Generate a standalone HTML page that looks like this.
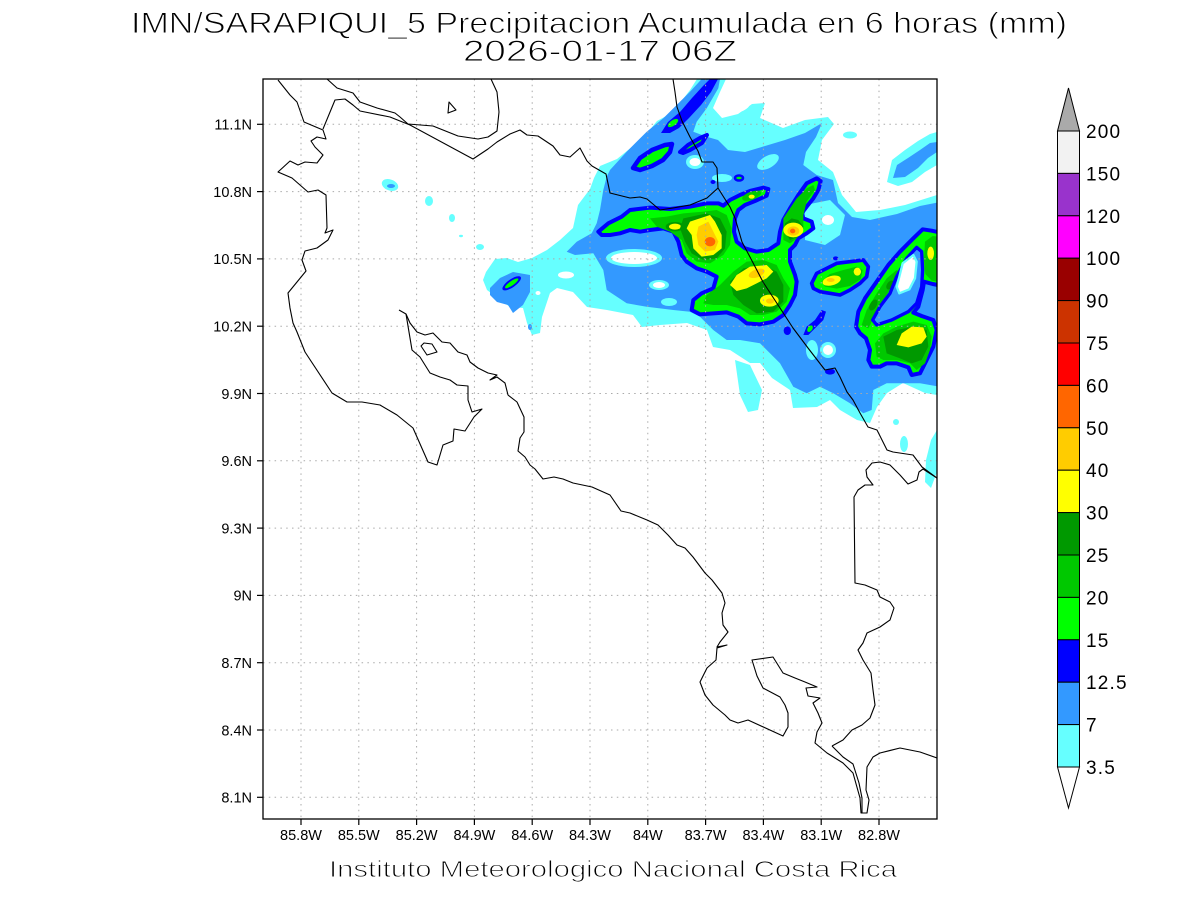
<!DOCTYPE html>
<html><head><meta charset="utf-8"><style>
html,body{margin:0;padding:0;background:#fff;}
svg{display:block;font-family:"Liberation Sans",sans-serif;}
</style></head><body>
<svg width="1200" height="900" viewBox="0 0 1200 900" xmlns="http://www.w3.org/2000/svg">
<defs><clipPath id="cp"><rect x="263" y="79" width="674" height="740"/></clipPath></defs>
<rect width="1200" height="900" fill="#fff"/>

<g clip-path="url(#cp)">
<!-- CYAN -->
<g fill="#66ffff">
<polygon points="483,280 486,272 495,259 507,258 518,262 532,258 547,250 560,240 573,228 578,205 590,189 594,178 600,166 617,159 633,146 648,132 657,121 668,115 680,103 690,90 697,79 726,79 720,92 713,108 722,118 738,114 752,104 765,103 760,118 783,128 805,120 828,117 834,124 822,140 818,160 833,172 842,195 856,212 880,210 905,205 937,195 937,395 925,393 903,383 887,393 877,407 870,423 857,420 840,410 830,400 817,407 793,408 790,390 772,378 760,363 750,363 730,350 713,347 707,330 687,323 660,325 642,327 633,315 607,310 587,307 573,292 557,288 550,293 542,317 540,333 532,335 527,323 523,308 510,307 500,300 487,290"/>
<polygon points="735,360 750,365 762,390 758,410 748,412 740,395"/>
<polygon points="887,182 892,160 905,150 918,141 930,134 937,132 937,165 925,172 912,182 898,186"/>
<ellipse cx="850" cy="135" rx="7" ry="3.5"/>
<polygon points="937,430 937,472 931,488 925,482 926,460 931,440"/>
<ellipse cx="904" cy="444" rx="4" ry="8"/>
<ellipse cx="896" cy="422" rx="3" ry="3"/>
<ellipse cx="390" cy="185" rx="8.5" ry="5.5" transform="rotate(20 390 185)"/>
<ellipse cx="429" cy="201" rx="4" ry="5"/>
<ellipse cx="452" cy="218" rx="3" ry="4"/>
<ellipse cx="461" cy="236" rx="2" ry="1.2"/>
<ellipse cx="480" cy="247" rx="4" ry="3"/>
</g>
<g fill="#fff">
<ellipse cx="566" cy="275" rx="8" ry="3.5"/>
<ellipse cx="538" cy="293" rx="2.5" ry="2"/>
<ellipse cx="742" cy="108" rx="8" ry="3" transform="rotate(-25 742 108)"/>
</g>

<!-- 3399FF -->
<g fill="#3399ff">
<polygon points="490,288 500,278 513,272 530,275 530,292 523,305 513,313 508,305 497,302 490,295"/>
<polygon points="566.7,251.7 576.7,241.7 591.7,233.3 596.7,223.3 600,210 603.3,190 606.7,176.7 610,170 626.7,151.7 646.7,131.7 663.3,118.3 676.7,105 690,91.7 701.7,79 720,79 718.3,88.3 706.7,108.3 696.7,121.7 693.3,131.7 706.7,136.7 718,140 728,150 745,152 765,146 785,140 805,133 822,123 816,137 806,152 803.3,165 816.7,175 833,180 838,203 852,217 870,220 897,214 920,206 940,202 940,386.7 920,383.3 886.7,383.3 873.3,390 871.7,410 863.3,413.3 850,403.3 833.3,393.3 820,386.7 806.7,393.3 793.3,386.7 780,363.3 760,343.3 740,340 726.7,340 713.3,330 700,316.7 690,311.7 673.3,310 646.7,306.7 626.7,303.3 606.7,290 603.3,270 593.3,253.3 575,255"/>
<polygon points="893,178 897,165 908,158 920,150 930,143 937,142 937,152 928,158 918,168 905,177"/>
<ellipse cx="391" cy="186" rx="4" ry="2"/>
<ellipse cx="530" cy="327" rx="2" ry="3"/>
</g>
<!-- holes in 3399ff -->
<ellipse cx="634" cy="258" rx="28" ry="9" fill="#66ffff"/>
<ellipse cx="634" cy="258" rx="23" ry="6" fill="#fff"/>
<ellipse cx="659" cy="285" rx="10" ry="5" fill="#66ffff"/>
<ellipse cx="659" cy="285" rx="6" ry="3" fill="#fff"/>
<ellipse cx="669" cy="302" rx="8" ry="4" fill="#66ffff"/>
<ellipse cx="695" cy="162" rx="9" ry="7" fill="#66ffff"/>
<ellipse cx="695" cy="162" rx="5.5" ry="4" fill="#fff"/>
<ellipse cx="722" cy="178" rx="10" ry="4" fill="#66ffff"/>
<ellipse cx="768" cy="162" rx="12" ry="6" fill="#66ffff" transform="rotate(-30 768 162)"/>
<polygon points="805,205 830,200 845,215 840,235 825,245 805,240" fill="#66ffff"/>
<ellipse cx="828" cy="220" rx="6" ry="5" fill="#fff"/>
<ellipse cx="812" cy="350" rx="6" ry="10" fill="#66ffff"/>
<ellipse cx="828" cy="350" rx="8" ry="8" fill="#66ffff"/>
<ellipse cx="828" cy="350" rx="5" ry="5" fill="#fff"/>

<!-- west small blob -->
<ellipse cx="511.7" cy="283.3" rx="11" ry="4" fill="#0000ff" transform="rotate(-35 511.7 283.3)"/>
<ellipse cx="511.7" cy="283.3" rx="8" ry="2.2" fill="#00ff00" transform="rotate(-35 511.7 283.3)"/>

<!-- upper streaks -->
<polygon points="661,133 668,122 680,112 692,98 703,86 710,79 718,79 711,92 701,105 689,118 679,128 670,133" fill="#0000ff"/>
<ellipse cx="673" cy="123" rx="6" ry="2.8" fill="#00ff00" transform="rotate(-35 673 123)"/>
<polygon points="633,168 640,158 652,150 665,145 672,144 670,152 663,160 652,166 640,170" fill="#00ff00" stroke="#0000ff" stroke-width="4.5" stroke-linejoin="round"/>
<polygon points="680,152 688,145 700,138 707,135 702,143 690,150 683,153" fill="#00ff00" stroke="#0000ff" stroke-width="4" stroke-linejoin="round"/>
<ellipse cx="739" cy="178" rx="4" ry="2.5" fill="#00ff00" stroke="#0000ff" stroke-width="2.5"/>
<ellipse cx="713" cy="182" rx="2.5" ry="2" fill="#0000ff"/>

<!-- main system (zoom1 coords) -->
<g transform="translate(550 75) scale(0.333333)">
<polygon points="145,470 175,445 215,425 240,405 300,398 360,402 420,395 470,385 505,385 520,392 540,375 570,360 600,348 640,338 655,342 650,362 615,378 585,390 565,405 555,430 552,470 560,500 585,520 620,530 655,525 685,505 690,470 700,435 720,400 745,360 770,325 800,310 812,318 805,345 790,370 770,395 755,415 760,430 785,440 790,460 770,475 745,490 735,510 720,525 720,560 735,600 740,620 735,660 720,690 700,720 670,740 630,748 590,745 565,725 530,712 490,715 450,718 425,705 430,675 455,655 490,640 500,605 470,590 440,580 410,560 395,540 385,500 370,470 340,460 300,465 270,470 240,465 210,475 180,480 155,480" fill="#00ff00" stroke="#0000ff" stroke-width="12" stroke-linejoin="round"/>
<polygon points="300,430 350,425 400,415 460,410 500,405 530,420 545,460 540,510 520,540 480,565 440,560 410,535 395,495 360,470 320,455" fill="#00c800"/>
<ellipse cx="375" cy="455" rx="28" ry="14" fill="#009900"/>
<ellipse cx="375" cy="455" rx="18" ry="9" fill="#ffff00"/>
<polygon points="400,430 470,415 510,430 530,470 525,520 500,550 460,555 425,535 405,500 390,460" fill="#009900"/>
<polygon points="420,440 480,420 495,440 515,480 515,520 490,540 455,545 430,520 425,480 410,460" fill="#ffff00"/>
<polygon points="445,455 475,440 490,470 505,500 495,525 465,530 445,510 440,480" fill="#ffcc00"/>
<ellipse cx="480" cy="500" rx="16" ry="14" fill="#ff6600"/>
<ellipse cx="605" cy="362" rx="30" ry="12" fill="#00c800" transform="rotate(-20 605 362)"/>
<ellipse cx="605" cy="365" rx="9" ry="6" fill="#ffff00"/>
<polygon points="700,430 720,400 740,370 770,340 790,330 795,345 770,380 760,420 760,460 740,490 720,505 700,495" fill="#00c800"/>
<polygon points="705,470 705,445 725,430 745,435 760,455 745,485 720,495" fill="#009900"/>
<ellipse cx="730" cy="465" rx="30" ry="22" fill="#ffff00"/>
<ellipse cx="730" cy="468" rx="18" ry="14" fill="#ffcc00"/>
<ellipse cx="728" cy="468" rx="8" ry="7" fill="#ff6600"/>
<polygon points="470,660 510,630 550,590 590,560 640,555 680,570 700,610 720,640 710,680 680,710 640,720 600,720 570,700 530,690 490,690 460,685" fill="#00c800"/>
<polygon points="540,620 580,580 640,570 680,590 700,630 700,680 670,710 620,715 580,690 550,660" fill="#009900"/>
<polygon points="540,630 560,600 600,575 650,570 670,590 650,610 620,625 590,640 560,648" fill="#ffff00"/>
<ellipse cx="658" cy="677" rx="28" ry="18" fill="#ffff00"/>
<ellipse cx="620" cy="595" rx="25" ry="12" fill="#ffcc00" transform="rotate(-20 620 595)"/>
<ellipse cx="660" cy="678" rx="12" ry="8" fill="#ffcc00"/>
</g>

<!-- east system (zoom7 coords) -->
<g transform="translate(740 130) scale(0.333333)">
<polygon points="215,460 230,430 260,415 290,400 330,395 370,390 385,410 380,440 360,460 330,480 300,495 270,490 240,485 220,475" fill="#00ff00" stroke="#0000ff" stroke-width="11" stroke-linejoin="round"/>
<polygon points="245,455 270,432 310,420 350,410 368,420 362,448 330,468 290,476 255,470" fill="#00c800"/>
<ellipse cx="275" cy="452" rx="28" ry="14" fill="#ffff00" transform="rotate(-15 275 452)"/>
<ellipse cx="352" cy="425" rx="11" ry="12" fill="#ffff00"/>
<ellipse cx="272" cy="450" rx="12" ry="6" fill="#ffcc00"/>
<ellipse cx="287" cy="385" rx="8" ry="6" fill="#0000ff"/>

<polygon points="360,610 348,590 355,545 375,505 410,455 445,405 480,365 520,325 548,298 575,302 610,310 610,468 578,462 552,455 548,480 535,530 520,548 545,558 580,570 590,600 580,650 560,690 540,730 515,735 505,712 470,700 440,700 420,710 395,710 385,690 390,660 378,625" fill="#00ff00" stroke="#0000ff" stroke-width="12" stroke-linejoin="round"/>
<polygon points="555,335 578,318 610,322 610,458 575,452 556,432 552,390" fill="#00c800"/>
<ellipse cx="572" cy="370" rx="10" ry="20" fill="#ffff00"/>
<polygon points="365,585 380,540 410,490 440,445 470,420 482,430 455,470 430,510 405,555 385,595" fill="#00c800"/>
<ellipse cx="400" cy="525" rx="10" ry="18" fill="#009900" transform="rotate(30 400 525)"/>
<ellipse cx="450" cy="465" rx="9" ry="15" fill="#009900" transform="rotate(35 450 465)"/>
<polygon points="405,640 430,610 470,590 520,575 560,585 575,620 570,660 555,700 530,720 510,700 470,690 430,690 410,680" fill="#00c800"/>
<polygon points="430,620 470,600 520,590 560,600 565,650 545,690 515,700 480,685 440,670" fill="#009900"/>
<polygon points="470,645 485,610 515,590 550,592 560,620 545,640 505,652" fill="#ffff00"/>
<polygon points="470,440 500,385 530,352 545,365 548,420 545,470 530,520 505,545 455,570 410,585 398,570 420,530 450,490" fill="#3399ff" stroke="#0000ff" stroke-width="10" stroke-linejoin="round"/>
<polygon points="488,400 520,375 530,395 525,445 508,478 478,490 470,470 478,440" fill="#fff" stroke="#66ffff" stroke-width="7" stroke-linejoin="round"/>

<polygon points="190,615 200,590 225,570 245,540 258,545 250,570 230,590 205,615" fill="#0000ff"/>
<ellipse cx="210" cy="596" rx="7" ry="11" fill="#00ff00" transform="rotate(35 210 596)"/>
<ellipse cx="270" cy="725" rx="15" ry="9" fill="#0000ff"/>
<ellipse cx="142" cy="602" rx="11" ry="13" fill="#0000ff"/>
</g>
</g>

<!-- GRID -->
<g stroke="#aaaaaa" stroke-width="1" stroke-dasharray="1.5 4.3" fill="none">
<line x1="301" y1="79" x2="301" y2="819"/><line x1="358.8" y1="79" x2="358.8" y2="819"/>
<line x1="416.6" y1="79" x2="416.6" y2="819"/><line x1="474.4" y1="79" x2="474.4" y2="819"/>
<line x1="532.2" y1="79" x2="532.2" y2="819"/><line x1="590" y1="79" x2="590" y2="819"/>
<line x1="647.8" y1="79" x2="647.8" y2="819"/><line x1="705.6" y1="79" x2="705.6" y2="819"/>
<line x1="763.4" y1="79" x2="763.4" y2="819"/><line x1="821.2" y1="79" x2="821.2" y2="819"/>
<line x1="879" y1="79" x2="879" y2="819"/>
<line x1="263" y1="124.3" x2="937" y2="124.3"/><line x1="263" y1="191.6" x2="937" y2="191.6"/>
<line x1="263" y1="258.9" x2="937" y2="258.9"/><line x1="263" y1="326.2" x2="937" y2="326.2"/>
<line x1="263" y1="393.5" x2="937" y2="393.5"/><line x1="263" y1="460.8" x2="937" y2="460.8"/>
<line x1="263" y1="528.1" x2="937" y2="528.1"/><line x1="263" y1="595.4" x2="937" y2="595.4"/>
<line x1="263" y1="662.7" x2="937" y2="662.7"/><line x1="263" y1="730" x2="937" y2="730"/>
<line x1="263" y1="797.3" x2="937" y2="797.3"/>
</g>

<!-- COASTLINES -->
<g clip-path="url(#cp)" fill="none" stroke="#000" stroke-width="1.1" stroke-linejoin="round">
<polyline points="278,80 290,95 297,102 304,122 323,130 326,139 317,137 311,141 315,147 323,155 317,163 305,162 298,165 290,161 278,172 292,178 308,192 318,190 326,195 327,228 325,233 333,230 328,240 317,248 305,251 302,260 306,271 297,282 288,293 290,308 293,323 297,332 305,352 332,393 347,402 362,402 380,405 397,415 413,428 428,462 437,465 443,445 453,441 454,429 465,431 474,417 482,409 472,412 468,400 468,386 457,385 450,380 440,377 430,373 420,357 412,350 406,314 399,310"/>
<polygon points="421,346 424,343 432,344 437,352 427,355"/>
<polyline points="406,314 410,323 417,332 425,335 433,333 442,342 450,343 458,352 467,355 470,362 478,368 488,373 497,375 490,380 497,377 505,383 508,395 517,402 524,417 524,432 520,438 518,451 525,457 530,465 535,469 543,479 554,477 563,479 573,483 592,487 610,495 621,511 630,513 647,520 658,525 668,535 677,545 685,548 693,557 705,573 712,580 722,593 725,603 722,613 723,625 728,632 720,642 717,647 727,645 717,648 716,660 707,668 700,682 705,695 713,705 725,715 730,720 738,723 748,720 783,736 788,727 788,713 785,705 780,697 763,688 757,676 752,660 773,657 783,673 795,678 805,682 817,687 806,688 808,696 820,698 813,703 818,713 822,723 817,732 815,743 827,753 843,763 853,773 860,798 861,813 867,813 869,800 866,790 867,767 873,757 880,753 900,748 920,752 937,758"/>
<polyline points="832,746 843,740 852,730 862,725 870,718 875,705 873,690 871,673 863,660 858,650 863,643 867,633 880,627 890,620 894,608 890,602 880,597 877,590 865,585 855,583 854,497 858,490 865,485 873,485 867,477 866,470 872,463 880,462 890,465 900,475 908,484 917,480 919,472 923,469 937,478"/>
<polyline points="832,746 843,757 853,764 859,783 862,798 862,813"/>
<polyline points="673,79 675,92 677,107 682,121 690,137 698,151 702,162 713,162 717,168 718,188 723,196 730,207 735,218 742,242 750,257 763,282 780,308 793,328 808,348 825,370 835,368 840,377 847,392 853,400 860,413 868,427 877,430 887,450 893,452 913,455 922,467 937,478"/>
<polyline points="323,129 335,100 345,99 353,105 360,111 390,117 410,125 473,159 488,149 497,142 510,134 520,130 527,135 538,136 553,146 560,155 570,157 580,148 587,161 592,166 606,174 610,193 630,198 640,197 647,199 660,210 673,208 690,205 707,198 718,188"/>
<polyline points="327,79 337,88 353,93 360,102 377,108 395,113 400,117 408,124 433,126 458,136 478,139 488,137 497,131 499,112 497,92 491,79"/>
<polygon points="449,102 456,110 448,113"/>
</g>

<!-- FRAME & TICKS -->
<rect x="263" y="79" width="674" height="740" fill="none" stroke="#000" stroke-width="1.3"/>
<g stroke="#000" stroke-width="1.2">
<line x1="257" y1="124.3" x2="263" y2="124.3"/><line x1="257" y1="191.6" x2="263" y2="191.6"/>
<line x1="257" y1="258.9" x2="263" y2="258.9"/><line x1="257" y1="326.2" x2="263" y2="326.2"/>
<line x1="257" y1="393.5" x2="263" y2="393.5"/><line x1="257" y1="460.8" x2="263" y2="460.8"/>
<line x1="257" y1="528.1" x2="263" y2="528.1"/><line x1="257" y1="595.4" x2="263" y2="595.4"/>
<line x1="257" y1="662.7" x2="263" y2="662.7"/><line x1="257" y1="730" x2="263" y2="730"/>
<line x1="257" y1="797.3" x2="263" y2="797.3"/>
<line x1="301" y1="819" x2="301" y2="825"/><line x1="358.8" y1="819" x2="358.8" y2="825"/>
<line x1="416.6" y1="819" x2="416.6" y2="825"/><line x1="474.4" y1="819" x2="474.4" y2="825"/>
<line x1="532.2" y1="819" x2="532.2" y2="825"/><line x1="590" y1="819" x2="590" y2="825"/>
<line x1="647.8" y1="819" x2="647.8" y2="825"/><line x1="705.6" y1="819" x2="705.6" y2="825"/>
<line x1="763.4" y1="819" x2="763.4" y2="825"/><line x1="821.2" y1="819" x2="821.2" y2="825"/>
<line x1="879" y1="819" x2="879" y2="825"/>
</g>

<!-- AXIS LABELS -->
<g font-size="14.5" fill="#000" text-anchor="end">
<text x="252" y="129.6">11.1N</text><text x="252" y="196.9">10.8N</text>
<text x="252" y="264.2">10.5N</text><text x="252" y="331.5">10.2N</text>
<text x="252" y="398.8">9.9N</text><text x="252" y="466.1">9.6N</text>
<text x="252" y="533.4">9.3N</text><text x="252" y="600.7">9N</text>
<text x="252" y="668">8.7N</text><text x="252" y="735.3">8.4N</text>
<text x="252" y="802.6">8.1N</text>
</g>
<g font-size="14.5" fill="#000" text-anchor="middle">
<text x="301" y="840">85.8W</text><text x="358.8" y="840">85.5W</text>
<text x="416.6" y="840">85.2W</text><text x="474.4" y="840">84.9W</text>
<text x="532.2" y="840">84.6W</text><text x="590" y="840">84.3W</text>
<text x="647.8" y="840">84W</text><text x="705.6" y="840">83.7W</text>
<text x="763.4" y="840">83.4W</text><text x="821.2" y="840">83.1W</text>
<text x="879" y="840">82.8W</text>
</g>

<!-- TITLES -->
<g fill="#000" stroke="#fff" stroke-width="0.9">
<text x="599" y="33" font-size="30" text-anchor="middle" textLength="936" lengthAdjust="spacingAndGlyphs">IMN/SARAPIQUI_5 Precipitacion Acumulada en 6 horas (mm)</text>
<text x="600" y="61" font-size="30" text-anchor="middle" textLength="274" lengthAdjust="spacingAndGlyphs">2026-01-17 06Z</text>
<text x="329" y="877" font-size="23" textLength="568" lengthAdjust="spacingAndGlyphs">Instituto Meteorologico Nacional Costa Rica</text>
</g>

<!-- COLORBAR -->
<g stroke="#000" stroke-width="1">
<polygon points="1057.5,131 1079.5,131 1068.5,88" fill="#aaaaaa"/>
<polygon points="1057.5,767 1079.5,767 1068.5,808" fill="#ffffff"/>
<rect x="1057.5" y="131" width="22" height="42.4" fill="#f2f2f2"/>
<rect x="1057.5" y="173.4" width="22" height="42.4" fill="#9933cc"/>
<rect x="1057.5" y="215.8" width="22" height="42.4" fill="#ff00ff"/>
<rect x="1057.5" y="258.2" width="22" height="42.4" fill="#990000"/>
<rect x="1057.5" y="300.6" width="22" height="42.4" fill="#cc3300"/>
<rect x="1057.5" y="343" width="22" height="42.4" fill="#ff0000"/>
<rect x="1057.5" y="385.4" width="22" height="42.4" fill="#ff6600"/>
<rect x="1057.5" y="427.8" width="22" height="42.4" fill="#ffcc00"/>
<rect x="1057.5" y="470.2" width="22" height="42.4" fill="#ffff00"/>
<rect x="1057.5" y="512.6" width="22" height="42.4" fill="#009900"/>
<rect x="1057.5" y="555" width="22" height="42.4" fill="#00c800"/>
<rect x="1057.5" y="597.4" width="22" height="42.4" fill="#00ff00"/>
<rect x="1057.5" y="639.8" width="22" height="42.4" fill="#0000ff"/>
<rect x="1057.5" y="682.2" width="22" height="42.4" fill="#3399ff"/>
<rect x="1057.5" y="724.6" width="22" height="42.4" fill="#66ffff"/>
</g>
<g font-size="19" fill="#000" letter-spacing="1.2">
<text x="1086" y="138">200</text><text x="1086" y="180.4">150</text>
<text x="1086" y="222.8">120</text><text x="1086" y="265.2">100</text>
<text x="1086" y="307.6">90</text><text x="1086" y="350">75</text>
<text x="1086" y="392.4">60</text><text x="1086" y="434.8">50</text>
<text x="1086" y="477.2">40</text><text x="1086" y="519.6">30</text>
<text x="1086" y="562">25</text><text x="1086" y="604.4">20</text>
<text x="1086" y="646.8">15</text><text x="1086" y="689.2">12.5</text>
<text x="1086" y="731.6">7</text><text x="1086" y="774">3.5</text>
</g>
</svg>
</body></html>
